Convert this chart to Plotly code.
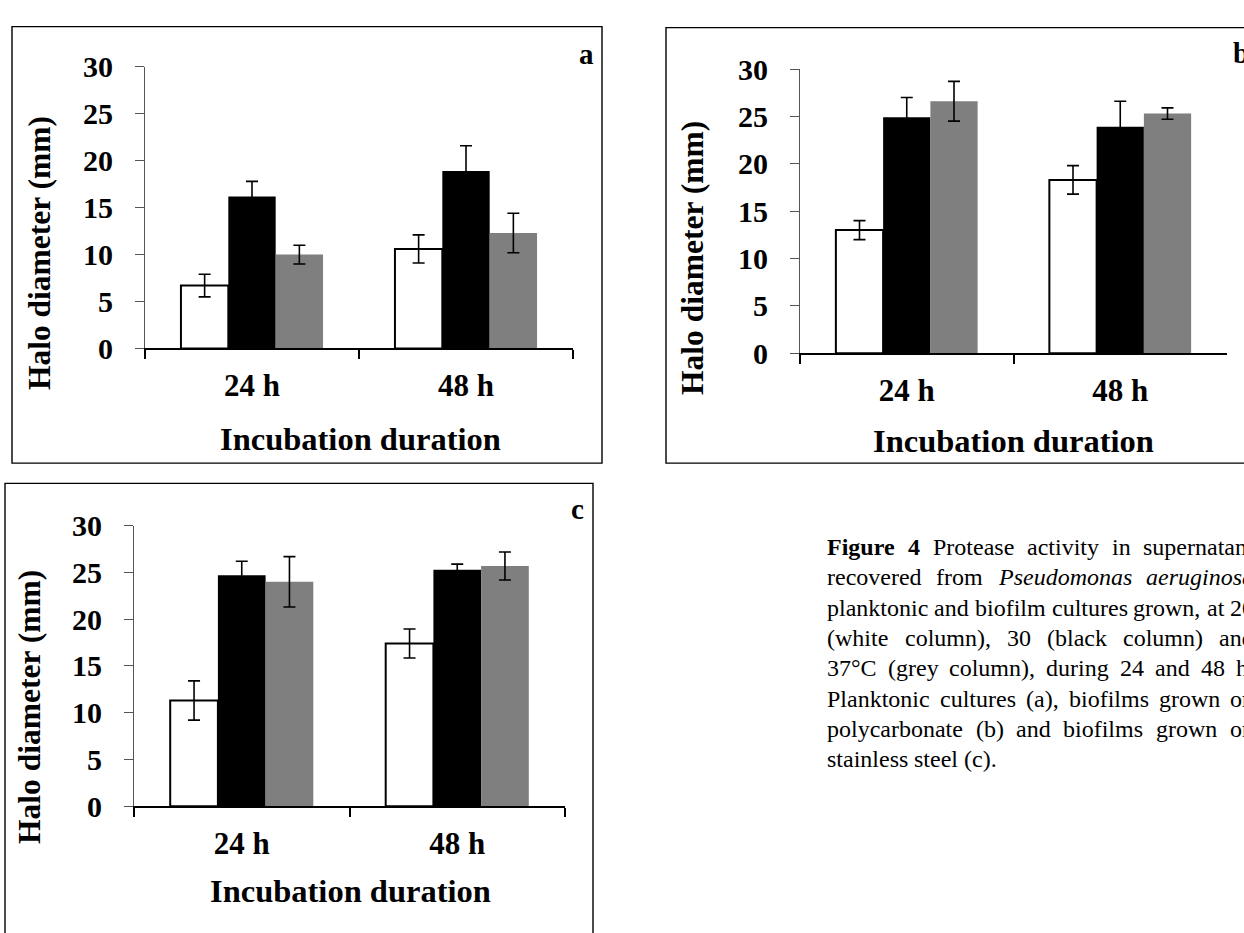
import plotly.graph_objects as go

# ---------------- data ----------------
categories = ["24 h", "48 h"]
series_names = ["20 °C", "30 °C", "37 °C"]
y_ticks = [0, 5, 10, 15, 20, 25, 30]

# panel a: planktonic cultures
a_20 = [6.7, 10.6]
a_20_err = [1.2, 1.5]
a_30 = [16.2, 18.9]
a_30_err = [1.6, 2.7]
a_37 = [10.0, 12.3]
a_37_err = [1.0, 2.1]

# panel b: biofilms on polycarbonate
b_20 = [13.0, 18.3]
b_20_err = [1.0, 1.5]
b_30 = [24.9, 23.9]
b_30_err = [2.1, 2.7]
b_37 = [26.6, 25.3]
b_37_err = [2.1, 0.6]

# panel c: biofilms on stainless steel
c_20 = [11.3, 17.4]
c_20_err = [2.1, 1.55]
c_30 = [24.7, 25.3]
c_30_err = [1.5, 0.6]
c_37 = [24.0, 25.7]
c_37_err = [2.7, 1.5]

panel_letters = ["a", "b", "c"]
y_title = "Halo diameter (mm)"
x_title = "Incubation duration"

caption_lines = [
    [("Figure", "b"), ("4", "b"), ("Protease", "r"), ("activity", "r"), ("in", "r"), ("supernatant", "r")],
    [("recovered", "r"), ("from", "r"), ("Pseudomonas", "i"), ("aeruginosa", "i")],
    [("planktonic", "r"), ("and", "r"), ("biofilm", "r"), ("cultures", "r"), ("grown,", "r"), ("at", "r"), ("20", "r")],
    [("(white", "r"), ("column),", "r"), ("30", "r"), ("(black", "r"), ("column)", "r"), ("and", "r")],
    [("37°C", "r"), ("(grey", "r"), ("column),", "r"), ("during", "r"), ("24", "r"), ("and", "r"), ("48", "r"), ("h.", "r")],
    [("Planktonic", "r"), ("cultures", "r"), ("(a),", "r"), ("biofilms", "r"), ("grown", "r"), ("on", "r")],
    [("polycarbonate", "r"), ("(b)", "r"), ("and", "r"), ("biofilms", "r"), ("grown", "r"), ("on", "r")],
    [("stainless", "r"), ("steel", "r"), ("(c).", "r")],
]
caption_justified = [True, True, True, True, True, True, True, False]

# ---------------- layout helpers ----------------
W, H = 1244, 933
FONT = "Liberation Serif, Times New Roman, serif"

def fx(px):
    return px / W

def fy(py):
    return 1 - py / H

# plot-area geometry (pixels): x-left, x-right, y of value 0, y of value 30
geom = {
    "a": dict(x0=145, x1=573, y0=344, y1=51.7, frame=(12, 10, 602, 463),
              ytitle=(39, 245), xtitle=(360, 438), letter=(586, 38)),
    "b": dict(x0=800, x1=1227, y0=349, y1=54, frame=(666, 11, 1260, 463),
              ytitle=(693, 250), xtitle=(1013, 440), letter=(1241, 37)),
    "c": dict(x0=134, x1=565, y0=819, y1=528, frame=(5, 484, 593, 970),
              ytitle=(30, 716), xtitle=(350, 907), letter=(577, 511)),
}

panels = [
    ("a", [(a_20, a_20_err), (a_30, a_30_err), (a_37, a_37_err)]),
    ("b", [(b_20, b_20_err), (b_30, b_30_err), (b_37, b_37_err)]),
    ("c", [(c_20, c_20_err), (c_30, c_30_err), (c_37, c_37_err)]),
]

fills = ["white", "black", "#7f7f7f"]
outlines = [dict(color="black", width=2), dict(color="black", width=0), dict(color="#7f7f7f", width=0)]

fig = go.Figure()
layout = dict(
    width=W, height=H, margin=dict(l=0, r=0, t=0, b=0),
    paper_bgcolor="white", plot_bgcolor="white",
    barmode="group", bargap=0.336, bargroupgap=0,
    showlegend=False, font=dict(family=FONT, color="black"),
)
shapes = []
annotations = []

for i, (key, series) in enumerate(panels):
    g = geom[key]
    sfx = "" if i == 0 else str(i + 1)
    xa, ya = "x" + sfx, "y" + sfx
    for j, (vals, errs) in enumerate(series):
        fig.add_trace(go.Bar(
            x=categories, y=vals, name=series_names[j],
            xaxis=xa, yaxis=ya, offsetgroup=str(j),
            marker=dict(color=fills[j], line=outlines[j]),
            error_y=dict(type="data", array=errs, visible=True,
                         color="black", thickness=1.6, width=6),
        ))
    layout["xaxis" + sfx] = dict(
        domain=[fx(g["x0"]), fx(g["x1"])], anchor=ya,
        range=[-0.5, 1.5], type="category",
        showline=True, linecolor="black", linewidth=1.5,
        ticks="outside", ticklen=9, tickwidth=1.5, tickcolor="black",
        tickson="boundaries", showgrid=False, zeroline=False,
        tickfont=dict(family=FONT, size=31, color="black", weight="bold"),
        ticklabelstandoff=9, fixedrange=True,
    )
    layout["yaxis" + sfx] = dict(
        domain=[fy(g["y0"]), fy(g["y1"])], anchor=xa,
        range=[0, 30], tickvals=y_ticks,
        showline=True, linecolor="#555555", linewidth=1,
        ticks="outside", ticklen=9, tickwidth=1, tickcolor="#555555",
        showgrid=False, zeroline=False,
        tickfont=dict(family=FONT, size=30, color="black", weight="bold"),
        ticklabelstandoff=16, fixedrange=True,
    )
    fx0, fy0, fx1, fy1 = g["frame"]
    shapes.append(dict(type="rect", xref="paper", yref="paper",
                       x0=fx(fx0), x1=fx(fx1), y0=fy(fy1), y1=fy(fy0),
                       line=dict(color="black", width=1.4), fillcolor="rgba(0,0,0,0)"))
    tx, ty = g["ytitle"]
    annotations.append(dict(xref="paper", yref="paper", x=fx(tx), y=fy(ty),
                            text=y_title, textangle=-90, showarrow=False,
                            xanchor="center", yanchor="middle",
                            font=dict(family=FONT, size=31.5, color="black", weight="bold")))
    tx, ty = g["xtitle"]
    annotations.append(dict(xref="paper", yref="paper", x=fx(tx), y=fy(ty),
                            text=x_title, showarrow=False,
                            xanchor="center", yanchor="middle",
                            font=dict(family=FONT, size=32.5, color="black", weight="bold")))
    tx, ty = g["letter"]
    annotations.append(dict(xref="paper", yref="paper", x=fx(tx), y=fy(ty),
                            text=panel_letters[i], showarrow=False,
                            xanchor="center", yanchor="middle",
                            font=dict(family=FONT, size=29, color="black", weight="bold")))

# ---------------- caption (justified text, word by word) ----------------
REG = {" ": 250, "(": 333, ")": 333, ",": 250, ".": 250, "°": 400,
       "C": 667, "P": 556, "F": 556,
       "a": 444, "b": 500, "c": 444, "d": 500, "e": 444, "f": 333, "g": 500, "h": 500,
       "i": 278, "k": 500, "l": 278, "m": 778, "n": 500, "o": 500, "p": 500, "r": 333,
       "s": 389, "t": 278, "u": 500, "v": 500, "w": 722, "y": 500}
ITA = {"P": 611, "s": 389, "e": 444, "u": 500, "d": 500, "o": 500, "m": 722, "n": 500,
       "a": 500, "r": 389, "g": 500, "i": 278}
BLD = {"F": 611, "i": 278, "g": 500, "u": 556, "r": 444, "e": 444}

CAP_SIZE = 24
CAP_LEFT = 826
CAP_RIGHT = 1253
CAP_TOP = 550
CAP_STEP = 31.5

def word_width(word, style):
    table = {"r": REG, "i": ITA, "b": BLD}[style]
    total = 0
    for ch in word:
        if ch.isdigit():
            total += 500
        else:
            total += table.get(ch, REG.get(ch, 500))
    return total / 1000 * CAP_SIZE

for li, words in enumerate(caption_lines):
    widths = [word_width(w, s) for w, s in words]
    if caption_justified[li] and len(words) > 1:
        gap = (CAP_RIGHT - CAP_LEFT - sum(widths)) / (len(words) - 1)
    else:
        gap = 0.25 * CAP_SIZE
    xpos = CAP_LEFT
    ypix = CAP_TOP + li * CAP_STEP
    for (w, s), wd in zip(words, widths):
        font = dict(family=FONT, size=CAP_SIZE, color="black")
        if s == "b":
            font["weight"] = "bold"
        if s == "i":
            font["style"] = "italic"
        annotations.append(dict(xref="paper", yref="paper", x=fx(xpos), y=fy(ypix),
                                text=w, showarrow=False, xanchor="left", yanchor="middle",
                                borderpad=0, font=font))
        xpos += wd + gap

layout["shapes"] = shapes
layout["annotations"] = annotations
fig.update_layout(**layout)
fig.write_html("out.html", config={"displayModeBar": False},
               post_script="document.body.style.margin='0px';")
